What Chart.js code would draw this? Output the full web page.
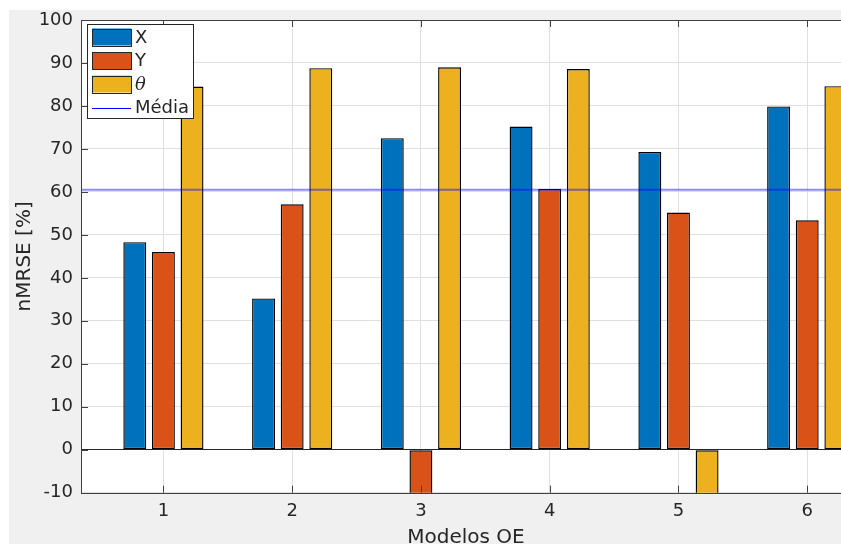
<!DOCTYPE html>
<html>
<head>
<meta charset="utf-8">
<script src="https://cdn.jsdelivr.net/npm/chart.js@4"></script>
<style>
html, body { margin: 0; padding: 0; background: #fff; overflow: hidden; width: 841px; height: 544px; }
#fig { position: absolute; left: 9px; top: 10px; right: 0; bottom: 0; background: #f0f0f0; }
#wrap { position: absolute; left: 0; top: 0; width: 900px; height: 560px; }
</style>
</head>
<body>
<div id="fig"></div>
<div id="wrap"><canvas id="barChart" width="900" height="560"></canvas></div>
<script>
// data
const models = [1, 2, 3, 4, 5, 6];
const xValues = [48.3, 35.2, 72.5, 75.2, 69.3, 79.9];
const yValues = [46.0, 57.1, -22.0, 60.7, 55.2, 53.4];
const thetaValues = [84.5, 88.8, 89.0, 88.6, -18.0, 84.6];
const mediaValue = 60.5;
const yTicks = [-10, 0, 10, 20, 30, 40, 50, 60, 70, 80, 90, 100];
const xLimits = [0.36, 6.34];
const yLimits = [-10, 100];

const seriesNames = ['X', 'Y', 'θ', 'Média'];
const seriesColors = ['#0072BD', '#D95319', '#EDB120', 'rgba(0,0,255,0.45)'];

const textColor = '#262626';
const axisColor = '#404040';
const gridColor = '#e0e0e0';

function points(vals) {
    return models.map((m, i) => ({ x: m, y: vals[i] }));
}

// white plot background
const plotBg = {
    id: 'plotBg',
    beforeDraw(chart) {
        const a = chart.chartArea;
        const ctx = chart.ctx;
        ctx.save();
        ctx.fillStyle = '#fff';
        ctx.fillRect(a.left, a.top, a.right - a.left, a.bottom - a.top);
        ctx.restore();
    }
};

// box + inward ticks, matlab style
const axesBox = {
    id: 'axesBox',
    afterDatasetsDraw(chart) {
        const a = chart.chartArea;
        const ctx = chart.ctx;
        const xs = chart.scales.x, ys = chart.scales.y;
        const len = 7;
        ctx.save();
        ctx.strokeStyle = axisColor;
        ctx.lineWidth = 1;
        ctx.beginPath();
        xs.ticks.forEach((t) => {
            const px = Math.round(xs.getPixelForValue(t.value)) + 0.5;
            ctx.moveTo(px, a.bottom); ctx.lineTo(px, a.bottom - len);
            ctx.moveTo(px, a.top); ctx.lineTo(px, a.top + len);
        });
        ys.ticks.forEach((t) => {
            const py = Math.round(ys.getPixelForValue(t.value)) + 0.5;
            ctx.moveTo(a.left, py); ctx.lineTo(a.left + len, py);
            ctx.moveTo(a.right, py); ctx.lineTo(a.right - len, py);
        });
        ctx.stroke();
        ctx.strokeRect(Math.round(a.left) + 0.5, Math.round(a.top) + 0.5,
            Math.round(a.right - a.left), Math.round(a.bottom - a.top));
        ctx.restore();
    }
};

// legend box in upper left of the axes
const boxLegend = {
    id: 'boxLegend',
    afterDraw(chart) {
        const ctx = chart.ctx;
        const a = chart.chartArea;
        const x0 = a.left + 6, y0 = a.top + 4;
        const w = 106, rowH = 23.5;
        ctx.save();
        ctx.fillStyle = '#fff';
        ctx.strokeStyle = textColor;
        ctx.lineWidth = 1;
        ctx.fillRect(x0, y0, w, rowH * 4 + 0.5);
        ctx.strokeRect(Math.round(x0) + 0.5, Math.round(y0) + 0.5, w, Math.round(rowH * 4));
        chart.data.datasets.forEach((ds, i) => {
            const cy = y0 + 13 + i * rowH;
            if (ds.type === 'line') {
                ctx.strokeStyle = 'blue';
                ctx.beginPath();
                ctx.moveTo(x0 + 5, Math.round(cy) + 0.5);
                ctx.lineTo(x0 + 44, Math.round(cy) + 0.5);
                ctx.stroke();
            } else {
                ctx.fillStyle = ds.backgroundColor;
                ctx.fillRect(x0 + 5, cy - 8.5, 39, 17);
                ctx.strokeStyle = textColor;
                ctx.strokeRect(Math.round(x0 + 5) + 0.5, Math.round(cy - 8.5) + 0.5, 39, 17);
            }
            ctx.fillStyle = textColor;
            ctx.textBaseline = 'middle';
            ctx.font = ds.label === 'θ' ? 'italic 18px "DejaVu Serif"' : '18px "DejaVu Sans"';
            ctx.fillText(ds.label, x0 + 48, cy + 1);
        });
        ctx.restore();
    }
};

const barSets = [xValues, yValues, thetaValues].map((vals, i) => ({
    label: seriesNames[i],
    data: points(vals),
    backgroundColor: seriesColors[i],
    borderColor: '#000',
    borderWidth: 1.4,
    borderSkipped: false,
    clip: 0,
    categoryPercentage: 0.667,
    barPercentage: 0.8
}));

const mediaSet = {
    type: 'line',
    label: seriesNames[3],
    data: [{ x: xLimits[0], y: mediaValue }, { x: xLimits[1], y: mediaValue }],
    borderColor: seriesColors[3],
    borderWidth: 2,
    pointRadius: 0,
    order: -1,
    clip: 0
};

Chart.defaults.font.family = '"DejaVu Sans", sans-serif';
Chart.defaults.color = textColor;

const ctx = document.getElementById('barChart').getContext('2d');
const myChart = new Chart(ctx, {
    type: 'bar',
    data: { datasets: [...barSets, mediaSet] },
    options: {
        responsive: false,
        animation: false,
        devicePixelRatio: 1,
        layout: { padding: { left: 0, top: 20, right: 49, bottom: 0 } },
        plugins: { legend: { display: false }, tooltip: { enabled: false } },
        scales: {
            x: {
                type: 'linear',
                min: xLimits[0],
                max: xLimits[1],
                offset: false,
                grid: { offset: false, color: gridColor, drawTicks: false },
                border: { display: false },
                afterBuildTicks: (s) => { s.ticks = models.map((v) => ({ value: v })); },
                ticks: { font: { size: 18 }, color: textColor, padding: 8, maxRotation: 0, callback: (v) => String(v) },
                title: { display: true, text: 'Modelos OE', font: { size: 20 }, color: textColor, padding: { top: 0, bottom: 10 } },
                afterFit: (s) => { s.height = 67.3; }
            },
            y: {
                min: yLimits[0],
                max: yLimits[1],
                grid: {
                    drawTicks: false,
                    color: (c) => (c.tick && c.tick.value === 0 ? textColor : gridColor)
                },
                border: { display: false },
                afterBuildTicks: (s) => { s.ticks = yTicks.map((v) => ({ value: v })); },
                ticks: { font: { size: 18 }, color: textColor, padding: 8 },
                title: { display: true, text: 'nMRSE [%]', font: { size: 20 }, color: textColor, padding: { top: 13, bottom: 0 } },
                afterFit: (s) => { s.width = 81; }
            }
        }
    },
    plugins: [plotBg, axesBox, boxLegend]
});
</script>
</body>
</html>
